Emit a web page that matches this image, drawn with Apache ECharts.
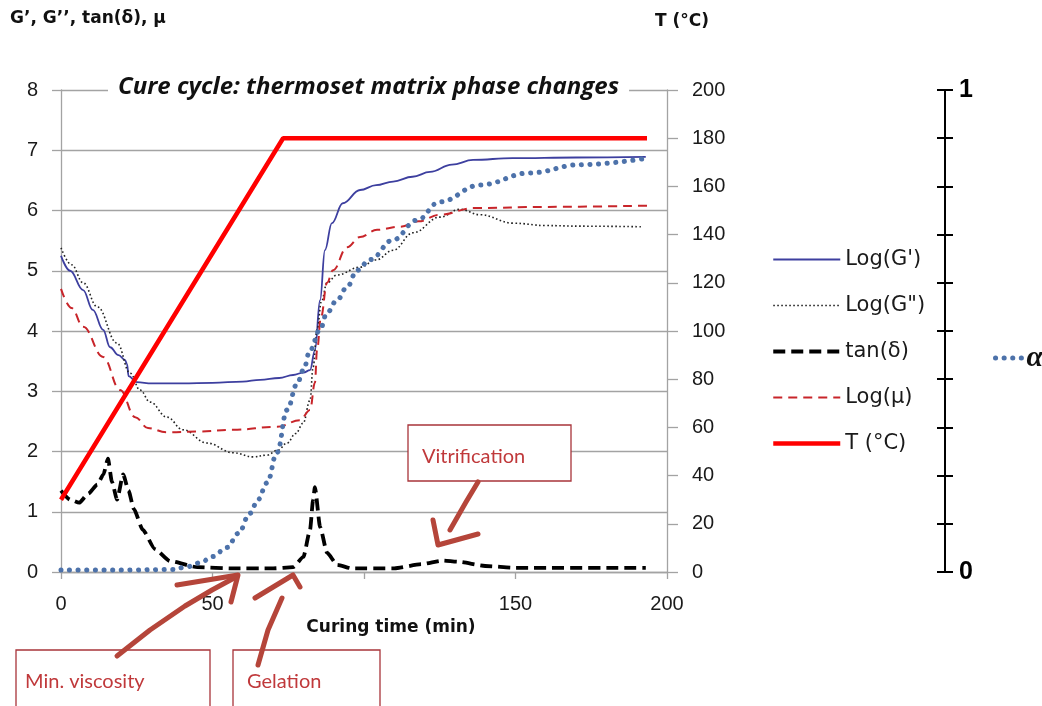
<!DOCTYPE html>
<html><head><meta charset="utf-8">
<script src="https://cdn.jsdelivr.net/npm/echarts@6/dist/echarts.min.js"></script>
<style>html,body{margin:0;padding:0;background:#fff}#c{width:1042px;height:706px}</style>
</head><body><div id="c"></div>
<script>
// ---- data (time in min, value) ----
const xTicks = [0, 50, 100, 150, 200];
const logGprime = [[0,5.25],[3,5.0],[7.3,4.68],[10.5,4.35],[13.9,4.02],[16.2,3.73],[19,3.6],[21.1,3.52],[21.8,3.45],[22.3,3.25],[25,3.15],[30,3.13],[40,3.13],[50,3.14],[60,3.16],[65.7,3.19],[72,3.22],[76.6,3.27],[80,3.31],[82.2,3.35],[83.8,3.68],[85.5,4.51],[87.1,5.34],[89.4,5.79],[93,6.12],[98.7,6.34],[104,6.42],[109.6,6.48],[116,6.56],[121.8,6.64],[129,6.76],[136,6.84],[149,6.87],[170,6.88],[193,6.89]];
const logGsecond = [[0,5.38],[3.5,5.1],[7.3,4.8],[12,4.4],[18.5,3.8],[22.8,3.3],[26.1,3.02],[29.4,2.82],[35,2.57],[40.3,2.36],[48.2,2.14],[56.8,1.98],[63.4,1.91],[68,1.94],[71.5,2.02],[74.6,2.14],[77.5,2.3],[79.9,2.47],[82.2,2.85],[83.2,3.4],[84.5,4.02],[86,4.5],[87.8,4.8],[91.1,4.93],[98.7,5.06],[104,5.18],[109.6,5.34],[116.2,5.63],[125,5.89],[131.7,6.02],[138.3,5.93],[149.2,5.79],[160,5.75],[171.3,5.74],[192,5.73]];
const tanDelta = [[0,1.35],[3,1.2],[6,1.15],[9,1.3],[12,1.45],[14,1.62],[15.5,1.88],[16.8,1.5],[18.5,1.2],[20.5,1.62],[22.3,1.35],[24,1.05],[27,0.7],[31,0.38],[36,0.18],[45,0.08],[57,0.06],[70,0.06],[76.6,0.08],[80,0.25],[82.2,0.7],[83.2,1.2],[83.8,1.41],[85.5,0.75],[87.8,0.32],[91.1,0.12],[96,0.06],[110,0.06],[119,0.13],[126,0.19],[131,0.17],[140,0.1],[150,0.07],[193,0.07]];
const logMu = [[0,4.7],[3.5,4.38],[7.3,4.07],[13.9,3.57],[19.5,3.02],[24.5,2.57],[28.7,2.39],[34.7,2.32],[45,2.33],[56.8,2.36],[71.3,2.41],[78.9,2.52],[82.2,2.69],[83.8,3.14],[84.5,3.68],[85.8,4.23],[87.8,4.8],[89.8,5.01],[94.4,5.39],[98.7,5.56],[104.3,5.68],[111.9,5.73],[118,5.82],[125,5.93],[136.2,6.04],[160.4,6.06],[193.4,6.08]];
const temperature = [[0,30],[73.3,180],[193.4,180]];
const alpha = [[0,0.004],[20,0.004],[37,0.005],[41,0.01],[45.9,0.019],[50,0.032],[54.8,0.051],[58.5,0.08],[62.4,0.122],[65,0.15],[68,0.185],[71.3,0.248],[74.6,0.336],[77.9,0.39],[80,0.419],[82.2,0.46],[85.5,0.503],[87.8,0.538],[91.1,0.564],[94.4,0.591],[97.7,0.626],[102,0.648],[109.6,0.689],[117.5,0.73],[125,0.768],[138.3,0.803],[154.8,0.828],[171.3,0.845],[193,0.858]];
const seriesNames = ["Log(G')", 'Log(G")', 'tan(δ)', 'Log(μ)', 'T (°C)'];

const chart = echarts.init(document.getElementById('c'));
const gridColor = '#a3a3a3';
const lblFont = {fontFamily: 'Liberation Sans', fontSize: 20, color: '#1a1a1a'};
const arrowStyle = {stroke: '#b5453a', lineWidth: 5, lineCap: 'round', lineJoin: 'round', fill: null};
const boxStyle = {fill: '#fff', stroke: '#a8343a', lineWidth: 1.3};
const noteFont = {fontFamily: 'Lato', fontSize: 20, fill: '#c0393b'};

chart.setOption({
  animation: false,
  backgroundColor: '#fff',
  title: {
    text: 'Cure cycle: thermoset matrix phase changes',
    left: 108, top: 73, padding: [2, 10],
    backgroundColor: '#fff',
    textStyle: {fontFamily: 'Open Sans', fontStyle: 'italic', fontWeight: 'bold', fontSize: 24, color: '#111'}
  },
  grid: {left: 61, right: 375, top: 90, bottom: 134},
  legend: [{
    orient: 'vertical', left: 766, top: 244, itemWidth: 67, itemHeight: 16, itemGap: 25,
    data: seriesNames,
    itemStyle: {opacity: 0},
    lineStyle: {width: 'inherit'},
    textStyle: {fontFamily: 'DejaVu Sans', fontSize: 21, color: '#1a1a1a'}
  }, {
    orient: 'vertical', left: 988, top: 338, itemWidth: 26, itemHeight: 16,
    data: ['α'],
    itemStyle: {opacity: 0},
    lineStyle: {width: 'inherit'},
    textStyle: {fontFamily: 'Liberation Serif', fontStyle: 'italic', fontWeight: 'bold', fontSize: 30, color: '#111'}
  }],
  xAxis: {
    type: 'value', min: xTicks[0], max: xTicks[xTicks.length-1], interval: 50,
    name: 'Curing time (min)', nameLocation: 'middle', nameGap: 31,
    nameTextStyle: {fontFamily: 'DejaVu Sans', fontWeight: 'bold', fontSize: 17, color: '#111', padding: [0,0,0,54]},
    axisLine: {show: true, lineStyle: {color: gridColor, width: 1.3}},
    axisTick: {show: true, length: 7, lineStyle: {color: gridColor, width: 1.3}},
    axisLabel: Object.assign({margin: 22, formatter: v => (v === 100 ? '' : String(v))}, lblFont),
    splitLine: {show: false}
  },
  yAxis: [{
    type: 'value', min: 0, max: 8, interval: 1, position: 'left',
    axisLine: {show: true, lineStyle: {color: gridColor, width: 1.3}},
    axisTick: {show: true, length: 9, lineStyle: {color: gridColor, width: 1.3}},
    axisLabel: Object.assign({margin: 23}, lblFont),
    splitLine: {show: true, lineStyle: {color: gridColor, width: 1.3}}
  }, {
    type: 'value', min: 0, max: 200, interval: 20, position: 'right',
    name: 'T (°C)', nameGap: 60,
    nameTextStyle: {fontFamily: 'DejaVu Sans', fontWeight: 'bold', fontSize: 17, color: '#111', padding: [0,0,0,30]},
    axisLine: {show: true, lineStyle: {color: gridColor, width: 1.3}},
    axisTick: {show: true, length: 11, lineStyle: {color: gridColor, width: 1.3}},
    axisLabel: Object.assign({margin: 25}, lblFont),
    splitLine: {show: false}
  }, {
    type: 'value', min: 0, max: 1, interval: 0.1, position: 'right', offset: 278,
    axisLine: {show: true, lineStyle: {color: '#000', width: 2}},
    axisTick: {show: true, inside: false, length: 8, lineStyle: {color: '#000', width: 2}},
    axisLabel: {margin: 14, fontFamily: 'Liberation Sans', fontWeight: 'bold', fontSize: 25, color: '#000',
      formatter: v => (Math.abs(v) < 1e-9 ? '0' : (Math.abs(v-1) < 1e-9 ? '1' : ''))},
    splitLine: {show: false}
  }, {
    type: 'value', min: 0, max: 1, interval: 0.1, position: 'right', offset: 278,
    axisLine: {show: false},
    axisTick: {show: true, inside: true, length: 8, lineStyle: {color: '#000', width: 2}},
    axisLabel: {show: false},
    splitLine: {show: false}
  }],
  series: [
    {name: seriesNames[0], type: 'line', data: logGprime, yAxisIndex: 0, symbol: 'none', smooth: 0.4, smoothMonotone: 'x',
      lineStyle: {color: '#3d3f9f', width: 1.8}, itemStyle: {color: '#3d3f9f'}, z: 3},
    {name: seriesNames[1], type: 'line', data: logGsecond, yAxisIndex: 0, symbol: 'none', smooth: 0.4, smoothMonotone: 'x',
      lineStyle: {color: '#222', width: 1.6, type: [1.6, 2.4]}, itemStyle: {color: '#222'}, z: 3},
    {name: seriesNames[2], type: 'line', data: tanDelta, yAxisIndex: 0, symbol: 'none', smooth: 0.2, smoothMonotone: 'x',
      lineStyle: {color: '#000', width: 3.8, type: [12, 6]}, itemStyle: {color: '#000'}, z: 4},
    {name: seriesNames[3], type: 'line', data: logMu, yAxisIndex: 0, symbol: 'none', smooth: 0.4, smoothMonotone: 'x',
      lineStyle: {color: '#c8252a', width: 2, type: [9, 6]}, itemStyle: {color: '#c8252a'}, z: 3},
    {name: seriesNames[4], type: 'line', data: temperature, yAxisIndex: 1, symbol: 'none',
      lineStyle: {color: '#ff0000', width: 4.5}, itemStyle: {color: '#ff0000'}, z: 6},
    {name: 'α', type: 'line', data: alpha, yAxisIndex: 2, symbol: 'none', smooth: 0.4, smoothMonotone: 'x',
      lineStyle: {color: '#4d72aa', width: 5, type: [0.1, 8.5], cap: 'round'}, itemStyle: {color: '#4d72aa'}, z: 5}
  ],
  graphic: [
    {type: 'text', left: 10, top: 10, style: {text: 'G’, G’’, tan(δ), μ', fontFamily: 'DejaVu Sans', fontWeight: 'bold', fontSize: 17, fill: '#111'}},
    // annotation boxes
    {type: 'rect', shape: {x: 408, y: 425, width: 163, height: 56}, style: boxStyle, z: 20},
    {type: 'text', x: 422, y: 457, style: Object.assign({text: 'Vitrification', verticalAlign: 'middle'}, noteFont), z: 21},
    {type: 'rect', shape: {x: 16, y: 650, width: 194, height: 70}, style: boxStyle, z: 20},
    {type: 'text', x: 25, y: 682, style: Object.assign({text: 'Min. viscosity', verticalAlign: 'middle'}, noteFont), z: 21},
    {type: 'rect', shape: {x: 233, y: 650, width: 147, height: 70}, style: boxStyle, z: 20},
    {type: 'text', x: 247, y: 682, style: Object.assign({text: 'Gelation', verticalAlign: 'middle'}, noteFont), z: 21},
    // arrows
    {type: 'polyline', shape: {points: [[478, 482], [466, 502], [450, 530]]}, style: arrowStyle, z: 22},
    {type: 'polyline', shape: {points: [[433, 520], [438, 545], [478, 534]]}, style: arrowStyle, z: 22},
    {type: 'polyline', shape: {points: [[117, 656], [150, 630], [185, 606], [212, 590], [236, 577]]}, style: arrowStyle, z: 22},
    {type: 'polyline', shape: {points: [[177, 585], [238, 575], [231, 602]]}, style: arrowStyle, z: 22},
    {type: 'polyline', shape: {points: [[258, 665], [268, 630], [282, 598]]}, style: arrowStyle, z: 22},
    {type: 'polyline', shape: {points: [[255, 598], [293, 575], [300, 587]]}, style: arrowStyle, z: 22}
  ]
});
</script></body></html>
